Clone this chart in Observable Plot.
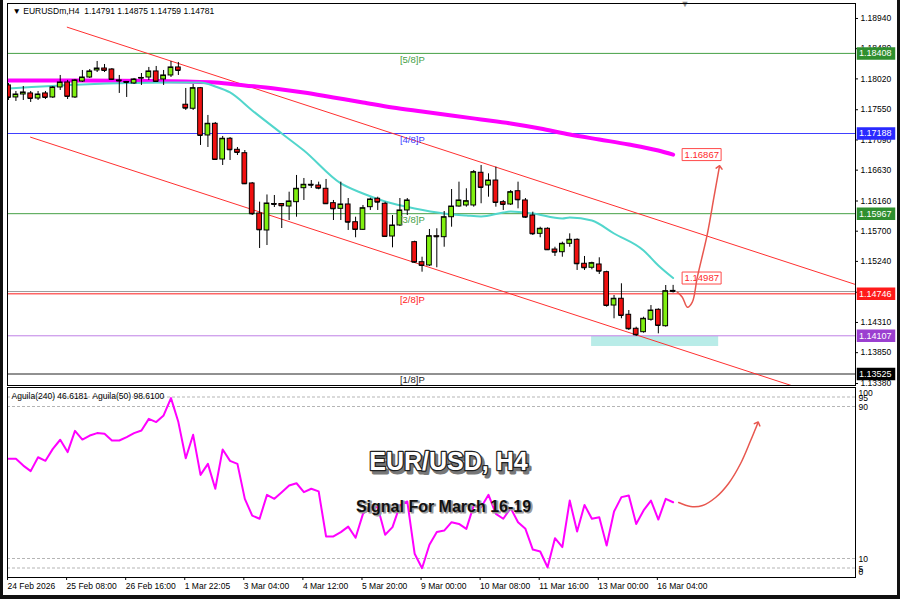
<!DOCTYPE html>
<html><head><meta charset="utf-8">
<script src="https://cdn.jsdelivr.net/npm/d3@7"></script>
<script src="https://cdn.jsdelivr.net/npm/@observablehq/plot@0.6"></script>
<style>
body{margin:0;background:#fff;}
#wrap{position:relative;width:900px;height:599px;overflow:hidden;background:#fff;}
#wrap svg{display:block;}
#border{position:absolute;left:0;top:0;width:900px;height:599px;box-sizing:border-box;border-left:3px solid #111;border-right:3px solid #111;border-bottom:4px solid #111;pointer-events:none;z-index:5;}
</style></head><body>
<div id="wrap"><div id="border"></div></div>
<script>
// ---------- DATA ----------
const opens  = [1.17920,1.17737,1.17782,1.17798,1.17721,1.17798,1.17737,1.17889,1.17965,1.17737,1.17980,1.18041,1.18148,1.18178,1.18163,1.17996,1.17973,1.17950,1.18026,1.18041,1.18133,1.18011,1.18072,1.18194,1.17626,1.17565,1.17878,1.17158,1.17336,1.16792,1.17108,1.16940,1.16888,1.16427,1.15970,1.15711,1.16114,1.16114,1.16076,1.16142,1.16355,1.16407,1.16396,1.16346,1.16127,1.16041,1.16107,1.15837,1.15721,1.16066,1.16194,1.16118,1.15619,1.15787,1.16016,1.15533,1.15228,1.15178,1.15624,1.15609,1.15913,1.16076,1.16092,1.16092,1.16590,1.16396,1.16472,1.16142,1.16107,1.16309,1.16168,1.15939,1.15660,1.15737,1.15421,1.15380,1.15508,1.15569,1.15204,1.15143,1.15193,1.15076,1.14568,1.14671,1.14427,1.14214,1.14162,1.14351,1.14503,1.14253,1.14791];
const highs  = [1.17950,1.17828,1.17904,1.17828,1.17828,1.17828,1.17904,1.18072,1.17996,1.18011,1.18148,1.18163,1.18285,1.18239,1.18178,1.18072,1.17980,1.18026,1.18102,1.18194,1.18209,1.18148,1.18285,1.18270,1.17874,1.17935,1.17889,1.17463,1.17356,1.17143,1.17127,1.16975,1.16929,1.16442,1.16142,1.16252,1.16244,1.16122,1.16294,1.16549,1.16503,1.16472,1.16447,1.16488,1.16168,1.16447,1.16198,1.15913,1.16092,1.16203,1.16218,1.16142,1.15939,1.16198,1.16198,1.15548,1.15304,1.15726,1.15737,1.16000,1.16335,1.16447,1.16346,1.16625,1.16701,1.16574,1.16675,1.16168,1.16320,1.16447,1.16198,1.15990,1.15761,1.15752,1.15456,1.15533,1.15660,1.15584,1.15315,1.15228,1.15295,1.15091,1.14721,1.14899,1.14492,1.14238,1.14390,1.14568,1.14518,1.14873,1.14875];
const lows   = [1.17691,1.17676,1.17691,1.17661,1.17691,1.17706,1.17721,1.17843,1.17706,1.17721,1.17965,1.18026,1.18117,1.18117,1.17996,1.17798,1.17737,1.17935,1.17920,1.17996,1.17965,1.17920,1.18041,1.18072,1.17539,1.17539,1.17006,1.16975,1.16777,1.16701,1.16777,1.16853,1.16411,1.15939,1.15437,1.15482,1.16061,1.15741,1.15863,1.15913,1.16168,1.16351,1.16331,1.16114,1.15863,1.15863,1.15711,1.15600,1.15711,1.16016,1.16016,1.15609,1.15447,1.15772,1.15939,1.15208,1.15076,1.15163,1.15143,1.15456,1.15761,1.16066,1.16066,1.16066,1.16118,1.16218,1.16066,1.16016,1.16092,1.16041,1.15894,1.15635,1.15600,1.15406,1.15315,1.15304,1.15456,1.15102,1.15102,1.15112,1.15041,1.14543,1.14366,1.14366,1.14188,1.14096,1.14147,1.14329,1.14137,1.14238,1.14759];
const closes = [1.17737,1.17782,1.17813,1.17721,1.17782,1.17737,1.17889,1.17965,1.17752,1.17996,1.18041,1.18133,1.18178,1.18148,1.18011,1.17988,1.17965,1.18011,1.18034,1.18133,1.17980,1.18072,1.18194,1.18148,1.17574,1.17878,1.17158,1.17336,1.16792,1.17108,1.16940,1.16899,1.16422,1.15965,1.15721,1.16122,1.16107,1.16087,1.16153,1.16346,1.16407,1.16400,1.16355,1.16118,1.16041,1.16107,1.15837,1.15726,1.16050,1.16183,1.16142,1.15619,1.15787,1.16016,1.16168,1.15228,1.15178,1.15624,1.15615,1.15913,1.16076,1.16168,1.16157,1.16599,1.16366,1.16472,1.16137,1.16107,1.16294,1.16178,1.15913,1.15660,1.15737,1.15417,1.15380,1.15508,1.15569,1.15204,1.15143,1.15213,1.15091,1.14568,1.14671,1.14416,1.14214,1.14122,1.14366,1.14492,1.14264,1.14786,1.14781];

// slow MA (magenta) and fast MA (turquoise), sampled at bar indices
const maSlowBars = [0,10,20,24,28,32,36,40,44,48,52,56,60,64,68,72,76,80,84,88,90];
const maSlowVals = [1.17996,1.17996,1.17988,1.17980,1.17965,1.17920,1.17874,1.17813,1.17737,1.17661,1.17584,1.17523,1.17463,1.17402,1.17341,1.17264,1.17173,1.17097,1.17021,1.16929,1.16867];
const maFastBars = [0,10,22,26,28,30,33,37,40,45,48,51,55,59,62,64,67,68,71,75,76,79,82,86,88,90];
const maFastVals = [1.17874,1.17935,1.17965,1.17965,1.17904,1.17813,1.17539,1.17188,1.16929,1.16427,1.16274,1.16153,1.16046,1.15970,1.15939,1.15924,1.15985,1.16000,1.15970,1.15894,1.15909,1.15863,1.15665,1.15406,1.15178,1.14987];

// Murrey levels
const levelNames  = ["[5/8]P","[4/8]P","[3/8]P","[2/8]P","[1/8]P"];
const levelValues = [1.18408,1.17188,1.15967,1.14746,1.13525];
const levelColors = ["#46a046","#4040ff","#46a046","#ff1a1a","#222222"];
const supportValue = 1.14107;
const currentPrice = 1.14781;

// right-side price tags
const tagValues = [1.18408,1.17188,1.15967,1.14746,1.14107,1.13525];
const tagColors = ["#2f8f2f","#2a2aff","#2f8f2f","#ff1a1a","#9b3fd0","#000000"];

// channel lines [bar, price]
const upperChannelBars = [7.95,114.7];
const upperChannelVals = [1.18807,1.14888];
const lowerChannelBars = [2.98,106];
const lowerChannelVals = [1.17132,1.13350];

// support zone
const zoneBars = [78.96,96.17];
const zoneVals = [1.14096,1.13944];

// projected path arrow (price panel)
const arrowBars = [90.57,91.25,91.93,92.6,93.28,94.64,95.53,96.26];
const arrowVals = [1.14771,1.14695,1.14542,1.14619,1.15000,1.15660,1.16218,1.16675];

// Aguila indicator
const aguila = [62.5,62.5,58.9,56.0,63.3,61.4,67.7,72.5,66.0,77.2,72.6,74.7,76.0,75.6,72.1,72.1,73.9,76.0,77.4,83.5,81.8,85.3,94.4,81.8,62.8,75.1,54.0,59.8,46.7,67.4,61.4,59.8,41.4,32.6,30.9,43.5,41.4,44.9,48.4,49.6,44.9,46.7,45.3,21.6,21.6,23.9,26.8,20.9,33.5,37.0,37.0,22.5,26.5,37.9,40.0,12.5,4.9,17.2,23.9,24.7,29.1,28.2,25.6,37.9,37.0,43.5,33.5,30.9,36.5,29.1,25.6,14.7,13.7,5.4,20.7,16.0,40.5,24.2,38.2,30.9,31.7,16.8,34.7,42.3,43.2,28.2,35.3,40.5,30.5,41.4,39.6];
const indArrowBars = [90.75,92.37,93.99,95.75,97.51,99.14,100.5,101.45];
const indArrowVals = [39.5,37.4,37.9,42.1,49.5,60.0,72.1,81.1];
const indDashLevels = [95,90,10,5];

// axis ticks
const priceTicks = [1.1894,1.1848,1.1802,1.1755,1.1709,1.1663,1.1616,1.1570,1.1524,1.1477,1.1431,1.1385,1.1338];
const dateTickBars = [0,8,16,24,32,40,48,56,64,72,80,88];
const dateTickLabels = ["24 Feb 2026","25 Feb 08:00","26 Feb 16:00","1 Mar 22:05","3 Mar 04:00","4 Mar 12:00","5 Mar 20:00","9 Mar 00:00","10 Mar 08:00","11 Mar 16:00","13 Mar 00:00","16 Mar 04:00"];

const headerText = "\u25BC EURUSDm,H4  1.14791 1.14875 1.14759 1.14781";
const indHeader = "Aguila(240) 46.6181  Aguila(50) 98.6100";
const titleText = "EUR/USD, H4";
const subtitleText = "Signal For March 16-19";
const LABEL_BAR = 53;
const SHIFT_BAR = 91.6;

// ---------- BUILD ----------
const X_DOMAIN = [-0.14, 114.7];
const FONT = "Liberation Sans, Arial, sans-serif";
const BULL = "#80f010", BEAR = "#f01010", HALF = 0.32;

const candles = opens.map((o, i) => ({i, open: o, high: highs[i], low: lows[i], close: closes[i]}));
const maSlow = maSlowBars.map((b, k) => ({i: b, p: maSlowVals[k]}));
const maFast = maFastBars.map((b, k) => ({i: b, p: maFastVals[k]}));
const levels = levelValues.map((v, k) => ({value: v, name: levelNames[k], color: levelColors[k]}));
const tags = tagValues.map((v, k) => ({value: v, bg: tagColors[k]}));
const upper = upperChannelBars.map((b, k) => ({i: b, p: upperChannelVals[k]}));
const lower = lowerChannelBars.map((b, k) => ({i: b, p: lowerChannelVals[k]}));
const zone = [{i1: zoneBars[0], i2: zoneBars[1], p1: zoneVals[0], p2: zoneVals[1]}];
const arrowPts = arrowBars.map((b, k) => ({i: b, p: arrowVals[k]}));
const maTags = [{i: maSlowBars[maSlowBars.length-1], p: maSlowVals[maSlowVals.length-1]},
                {i: maFastBars[maFastBars.length-1], p: maFastVals[maFastVals.length-1]}];
const indData = aguila.map((v, i) => ({i, v}));
const indArrow = indArrowBars.map((b, k) => ({i: b, v: indArrowVals[k]}));
const dateLabelOf = new Map(dateTickBars.map((b, k) => [b, dateTickLabels[k]]));

const tagBox = {draw(ctx) { ctx.moveTo(2,-5.5); ctx.lineTo(39,-5.5); ctx.lineTo(39,5.5); ctx.lineTo(2,5.5); ctx.closePath(); }};
const maBox  = {draw(ctx) { ctx.moveTo(9,-6); ctx.lineTo(48,-6); ctx.lineTo(48,6); ctx.lineTo(9,6); ctx.closePath(); }};

const pricePlot = Plot.plot({
  width: 900, height: 386,
  marginLeft: 7, marginRight: 45, marginTop: 3, marginBottom: 1,
  x: {domain: X_DOMAIN, axis: null},
  y: {domain: [1.1335, 1.19168], label: null},
  color: {type: "identity"},
  style: {fontFamily: FONT, fontSize: "9px", background: "white", color: "black", overflow: "visible"},
  marks: [
    Plot.rect(zone, {x1: "i1", x2: "i2", y1: "p1", y2: "p2", fill: "#b9ece8", clip: true}),
    Plot.ruleY(levels, {y: "value", stroke: "color", strokeWidth: 1}),
    Plot.ruleY([supportValue], {stroke: "#bf80e6", strokeWidth: 1}),
    Plot.ruleY([currentPrice], {stroke: "#9a9a9a", strokeWidth: 1}),
    Plot.line(upper, {x: "i", y: "p", stroke: "#ff3030", strokeWidth: 1, clip: true}),
    Plot.line(lower, {x: "i", y: "p", stroke: "#ff3030", strokeWidth: 1, clip: true}),
    Plot.line(maSlow, {x: "i", y: "p", stroke: "#ff00ff", strokeWidth: 4, curve: "monotone-x", clip: true}),
    Plot.line(maFast, {x: "i", y: "p", stroke: "#52d6cc", strokeWidth: 2, curve: "monotone-x", clip: true}),
    Plot.ruleX(candles, {x: "i", y1: "low", y2: "high", stroke: "#000", strokeWidth: 1, clip: true}),
    Plot.rect(candles, {x1: d => d.i - HALF, x2: d => d.i + HALF, y1: "open", y2: "close",
      fill: d => d.close >= d.open ? BULL : BEAR, stroke: "#000", strokeWidth: 1, clip: true}),
    Plot.ruleY(candles, {y: "close", x1: d => d.i - HALF, x2: d => d.i + HALF, stroke: "#000", strokeWidth: 1, clip: true}),
    Plot.text(levels, {x: LABEL_BAR, y: "value", text: "name", fill: "color", textAnchor: "start", lineAnchor: "top", dy: 2.5, fontSize: 9.5}),
    Plot.text([headerText], {frameAnchor: "top-left", text: d => d, textAnchor: "start", lineAnchor: "middle", dx: 5, dy: 8, fontSize: 8.5, fill: "#000"}),
    Plot.text(["\u25BC"], {x: SHIFT_BAR, frameAnchor: "top", text: d => d, lineAnchor: "top", dy: -3, fontSize: 9, fill: "#8a8a8a"}),
    Plot.dot(maTags, {x: "i", y: "p", symbol: maBox, fill: "white", stroke: "#ff4a4a", strokeWidth: 1}),
    Plot.text(maTags, {x: "i", y: "p", text: d => d.p.toFixed(5), dx: 11.5, textAnchor: "start", fill: "#ff2a2a", fontSize: 9.5}),
    Plot.line(arrowPts, {x: "i", y: "p", stroke: "#e8574f", strokeWidth: 1.5, curve: "catmull-rom", markerEnd: "arrow"}),
    Plot.axisY(priceTicks, {anchor: "right", tickSize: 2, tickPadding: 3, tickFormat: d => d.toFixed(5), fontSize: 8.5, label: null}),
    Plot.dot(tags, {y: "value", frameAnchor: "right", symbol: tagBox, fill: "bg", stroke: "bg"}),
    Plot.text(tags, {y: "value", frameAnchor: "right", text: d => d.value.toFixed(5), dx: 3.5, textAnchor: "start", fill: "white", fontSize: 9}),
    Plot.frame({stroke: "#000", strokeWidth: 1})
  ]
});

const indPlot = Plot.plot({
  width: 900, height: 213,
  marginLeft: 7, marginRight: 45, marginTop: 1, marginBottom: 22,
  x: {domain: X_DOMAIN, label: null},
  y: {domain: [0, 100], axis: null},
  color: {type: "identity"},
  style: {fontFamily: FONT, fontSize: "9px", background: "white", color: "black", overflow: "visible"},
  marks: [
    Plot.ruleY(indDashLevels, {stroke: "#b5b5b5", strokeDasharray: "3,2"}),
    Plot.line(indData, {x: "i", y: "v", stroke: "#ff00ff", strokeWidth: 2, clip: true}),
    Plot.text([titleText], {frameAnchor: "top", text: d => d, dx: 19.5, dy: 67.5, fontSize: 25, fontWeight: "bold",
      fill: "#777", stroke: "#777", strokeWidth: 3, paintOrder: "stroke", fontFamily: FONT}),
    Plot.text([titleText], {frameAnchor: "top", text: d => d, dx: 17, dy: 65, fontSize: 25, fontWeight: "bold",
      fill: "white", stroke: "#222", strokeWidth: 2.5, paintOrder: "stroke", fontFamily: FONT}),
    Plot.text([subtitleText], {frameAnchor: "top", text: d => d, dx: 13.5, dy: 114.5, fontSize: 16, fontWeight: "bold",
      fill: "#9a9a9a", stroke: "#9a9a9a", strokeWidth: 1, fontFamily: FONT}),
    Plot.text([subtitleText], {frameAnchor: "top", text: d => d, dx: 12, dy: 113, fontSize: 16, fontWeight: "bold",
      fill: "#111", fontFamily: FONT}),
    Plot.line(indArrow, {x: "i", y: "v", stroke: "#e8574f", strokeWidth: 1.5, curve: "catmull-rom", markerEnd: "arrow"}),
    Plot.text([indHeader], {frameAnchor: "top-left", text: d => d, textAnchor: "start", lineAnchor: "middle", dx: 4, dy: 9, fontSize: 8.5, fill: "#000"}),
    Plot.text([95, 90, 10, 5], {y: d => d, frameAnchor: "right", text: d => String(d), dx: 3, dy: 1, textAnchor: "start", fontSize: 8.5}),
    Plot.text([100], {y: d => d, frameAnchor: "right", text: d => String(d), dx: 3, dy: 6, textAnchor: "start", fontSize: 8.5}),
    Plot.text([0], {y: d => d, frameAnchor: "right", text: d => String(d), dx: 3, dy: -5, textAnchor: "start", fontSize: 8.5}),
    Plot.axisX(dateTickBars, {anchor: "bottom", tickSize: 3, tickPadding: 2, textAnchor: "start", dx: -1,
      tickFormat: d => dateLabelOf.get(d), fontSize: 8.5, label: null}),
    Plot.frame({stroke: "#000", strokeWidth: 1})
  ]
});

const wrap = document.getElementById("wrap");
wrap.insertBefore(indPlot, wrap.firstChild);
wrap.insertBefore(pricePlot, indPlot);
</script>
</body></html>
